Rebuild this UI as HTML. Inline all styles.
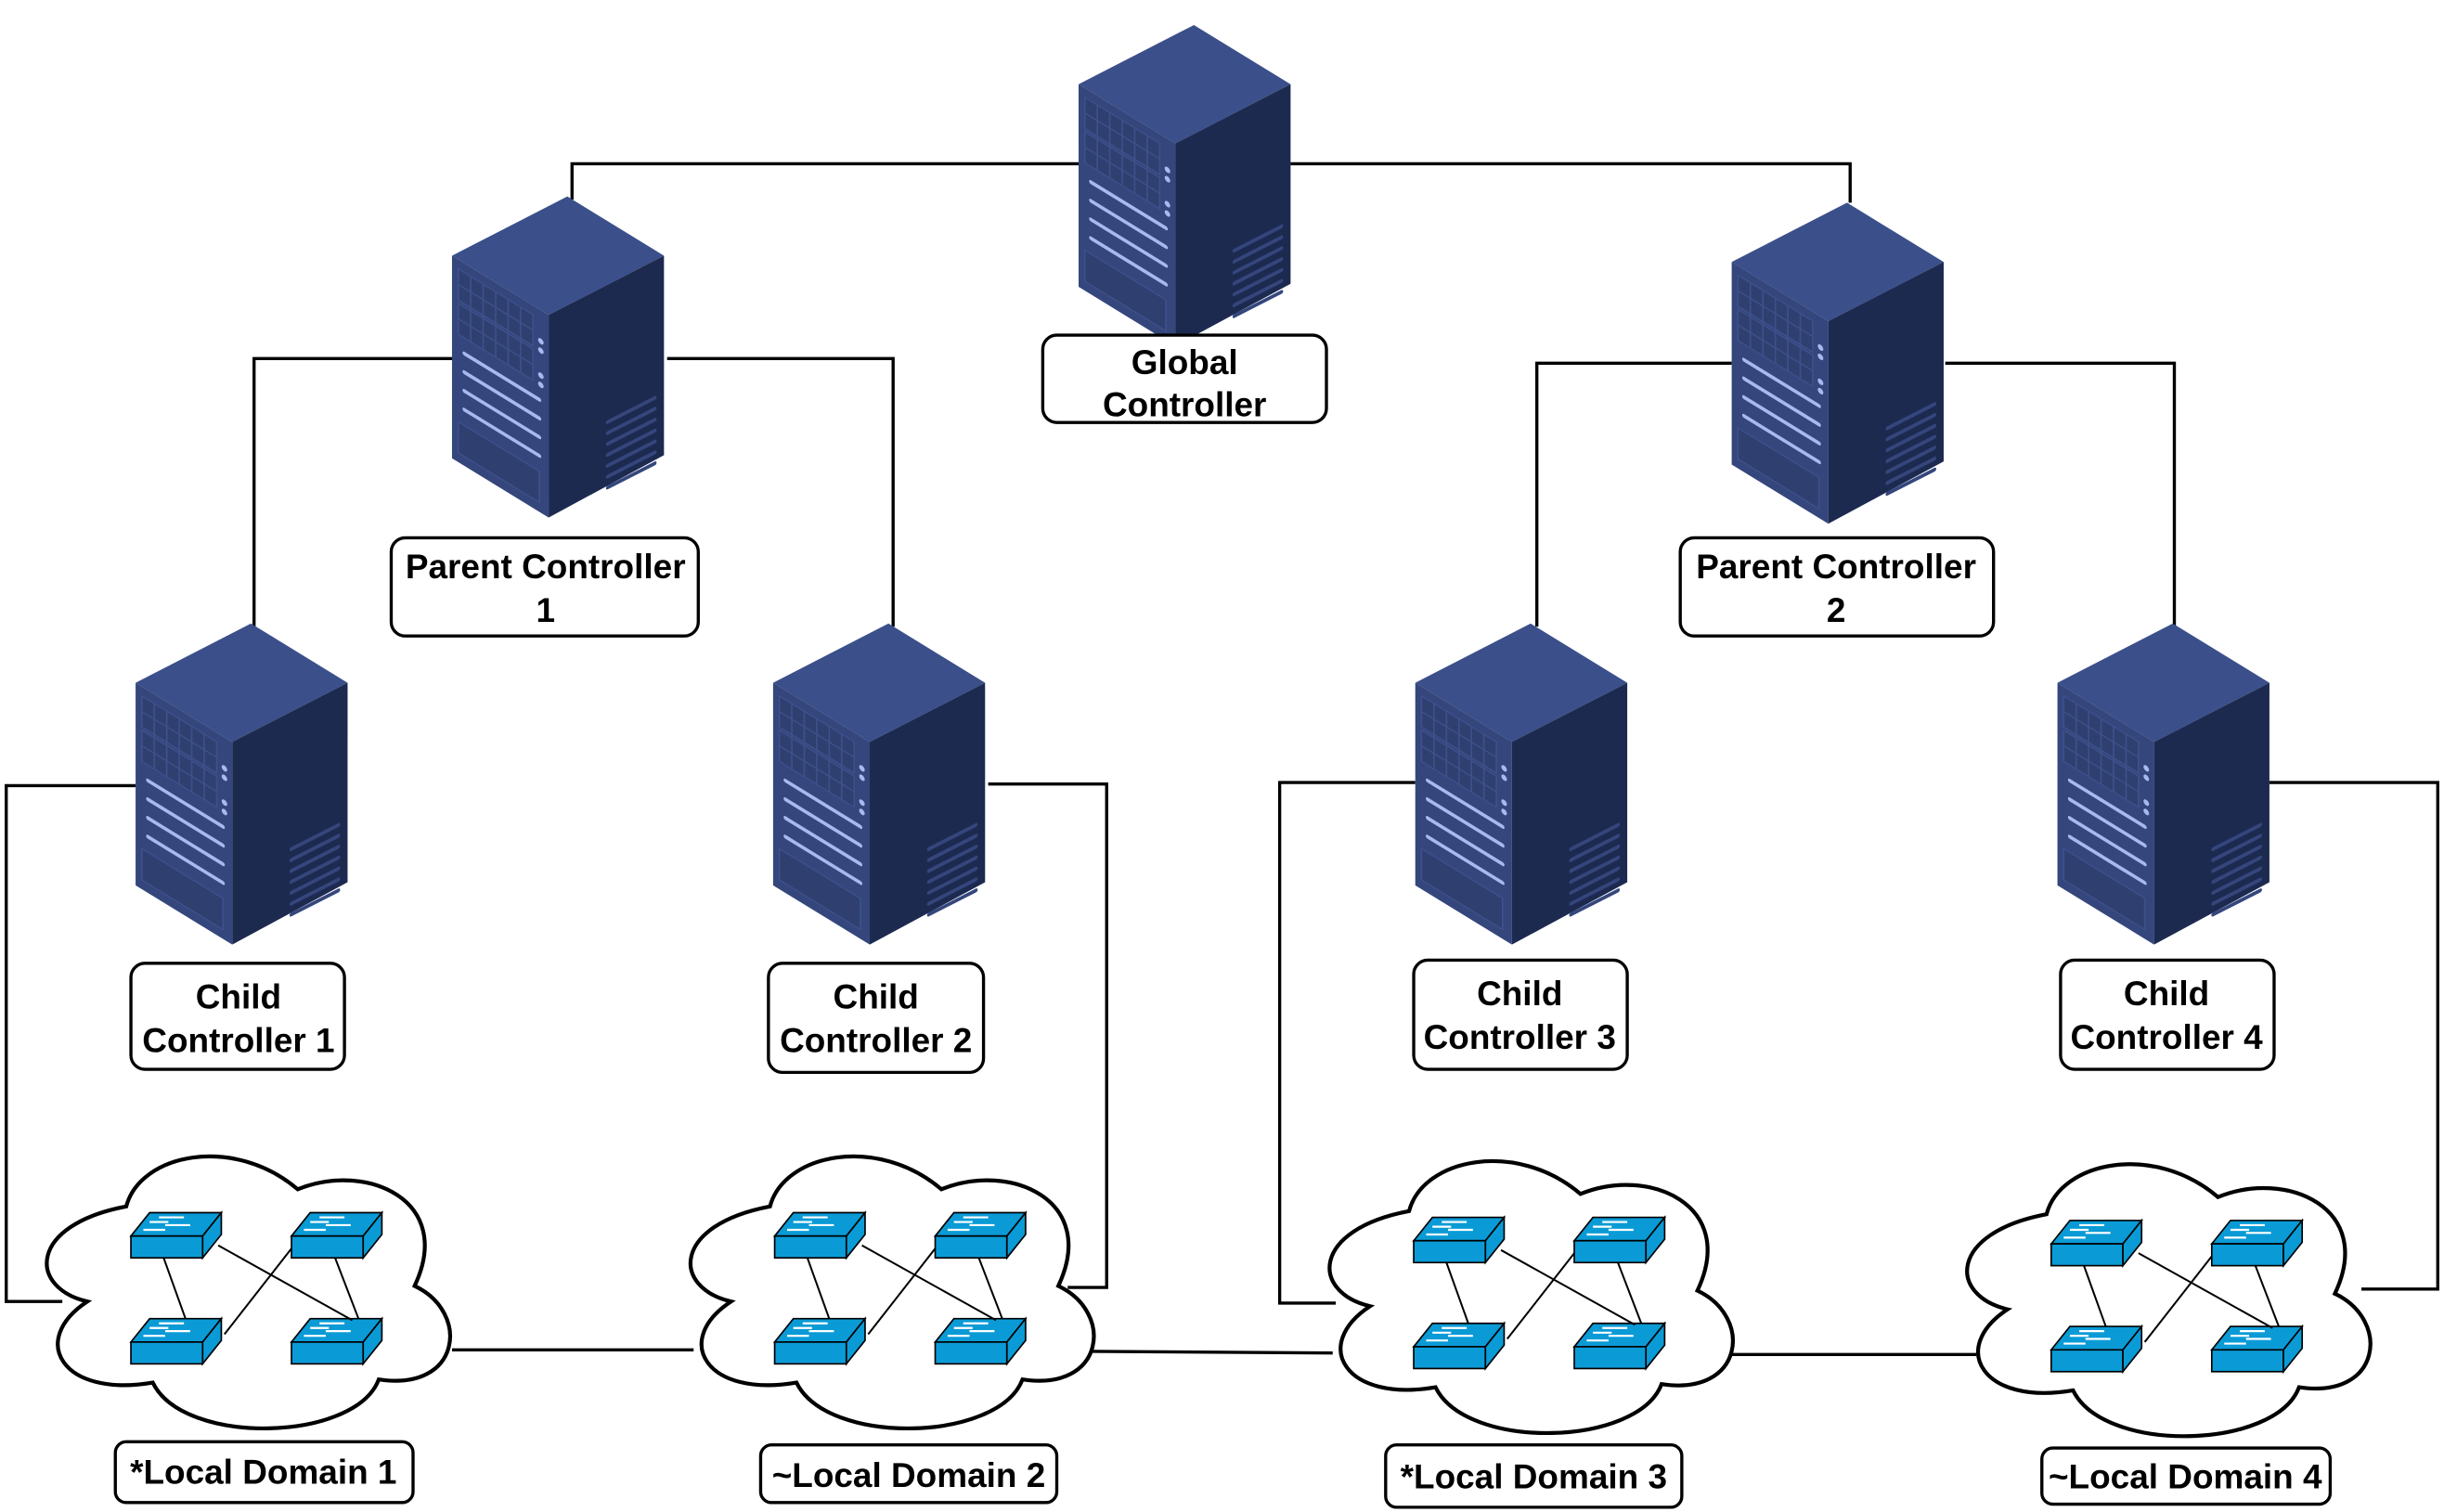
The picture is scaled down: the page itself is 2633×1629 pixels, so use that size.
<!DOCTYPE html>
<html><head><meta charset="utf-8"><style>
html,body{margin:0;padding:0;background:#fff;}
svg{display:block;}
text{font-family:"Liberation Sans",Arial,sans-serif;font-weight:bold;font-size:22px;fill:#000;text-anchor:middle;}
</style></head><body>
<svg width="2633" height="1629" viewBox="0 0 1568 970" xmlns="http://www.w3.org/2000/svg">
<defs>
<g id="srv">
  <polygon points="0,0 74,-38 136,0 62,38" fill="#3b4f8a"/>
  <polygon points="0,0 62,38 62,168 0,130" fill="#34467c"/>
  <polygon points="62,38 136,0 136,128 62,168" fill="#1d2a50"/>
  <g transform="skewY(31.5)">
    <rect x="4" y="6" width="48" height="20" fill="#2f3f70" stroke="#3d508a" stroke-width="1"/>
    <rect x="4" y="28" width="48" height="20" fill="#2f3f70" stroke="#3d508a" stroke-width="1"/>
    <g stroke="#3d508a" stroke-width="1">
      <line x1="12" y1="6" x2="12" y2="48"/><line x1="20" y1="6" x2="20" y2="48"/><line x1="28" y1="6" x2="28" y2="48"/><line x1="36" y1="6" x2="36" y2="48"/><line x1="44" y1="6" x2="44" y2="48"/>
      <line x1="4" y1="16" x2="52" y2="16"/><line x1="4" y1="38" x2="52" y2="38"/>
    </g>
    <circle cx="57" cy="20" r="1.8" fill="#a9b8f0"/><circle cx="57" cy="26" r="1.8" fill="#a9b8f0"/>
    <circle cx="57" cy="42" r="1.8" fill="#a9b8f0"/><circle cx="57" cy="48" r="1.8" fill="#a9b8f0"/>
    <g stroke="#a9b8f0" stroke-width="2.5" stroke-linecap="round">
      <line x1="8" y1="58" x2="56" y2="58"/><line x1="8" y1="70" x2="56" y2="70"/><line x1="8" y1="82" x2="56" y2="82"/><line x1="8" y1="94" x2="56" y2="94"/>
    </g>
    <rect x="4" y="104" width="52" height="20" fill="#2f3f70" stroke="#3d508a"/>
  </g>
  <g transform="translate(62,38) skewY(-27)" stroke="#34467c" stroke-width="2.5" stroke-linecap="round">
    <line x1="38" y1="88" x2="68" y2="88"/><line x1="38" y1="95" x2="68" y2="95"/><line x1="38" y1="102" x2="68" y2="102"/><line x1="38" y1="109" x2="68" y2="109"/><line x1="38" y1="116" x2="68" y2="116"/><line x1="38" y1="123" x2="68" y2="123"/><line x1="38" y1="130" x2="68" y2="130"/>
  </g>
</g>
<g id="sw">
  <polygon points="0,0 12,-15 58,-15 46,0" fill="#0a9bd6" stroke="#000" stroke-width="1"/>
  <rect x="0" y="0" width="46" height="14" fill="#0a9bd6" stroke="#000" stroke-width="1"/>
  <polygon points="46,0 58,-15 58,-1 46,14" fill="#0a9bd6" stroke="#000" stroke-width="1"/>
  <g stroke="#fff" stroke-width="1.3">
    <line x1="18" y1="-12" x2="34" y2="-12"/><line x1="12" y1="-9" x2="24" y2="-9"/><line x1="22" y1="-7" x2="38" y2="-7"/><line x1="8" y1="-4" x2="22" y2="-4"/>
  </g>
</g>
<g id="cloud">
  <path d="M56,835 C18,826 18,786 81,774 C90,740 150,728 191,763 C235,745 292,770 266,825 C302,842 296,893 243,885 C228,925 118,928 98,887 C40,897 18,860 56,835 Z" fill="#fff" stroke="#000" stroke-width="2.5"/>
  <use href="#sw" x="84" y="793"/><use href="#sw" x="187" y="793"/>
  <use href="#sw" x="84" y="861"/><use href="#sw" x="187" y="861"/>
  <g stroke="#000" stroke-width="1.2">
    <line x1="105" y1="807" x2="119" y2="846"/><line x1="215" y1="807" x2="230" y2="846"/>
    <line x1="140" y1="799" x2="226" y2="847"/><line x1="187" y1="801" x2="144" y2="856"/>
  </g>
</g>
</defs>
<g fill="none" stroke="#000" stroke-width="2">
  <polyline points="367,128 367,105 692,105"/>
  <polyline points="828,105 1187,105 1187,130"/>
  <polyline points="290,230 163,230 163,402"/>
  <polyline points="428,230 573,230 573,402"/>
  <polyline points="1111,233 986,233 986,402"/>
  <polyline points="1248,233 1395,233 1395,402"/>
  <polyline points="87,504 4,504 4,835 40,835"/>
  <polyline points="634,503 710,503 710,826 685,826"/>
  <polyline points="908,502 821,502 821,836 857,836"/>
  <polyline points="1456,502 1564,502 1564,827 1515,827"/>
  <line x1="290" y1="866" x2="445" y2="866"/>
  <line x1="700" y1="867" x2="855" y2="868"/>
  <line x1="1110" y1="869" x2="1268" y2="869"/>
</g>
<use href="#cloud" x="0" y="0"/>
<use href="#cloud" x="413" y="0"/>
<use href="#cloud" x="823" y="3"/>
<use href="#cloud" x="1232" y="5"/>
<use href="#srv" x="692" y="54"/>
<use href="#srv" x="290" y="164"/>
<use href="#srv" x="1111" y="168"/>
<use href="#srv" x="87" y="438"/>
<use href="#srv" x="496" y="438"/>
<use href="#srv" x="908" y="438"/>
<use href="#srv" x="1320" y="438"/>
<g fill="#fff" stroke="#000" stroke-width="2">
  <rect x="669" y="215" width="182" height="56" rx="9"/>
  <rect x="251" y="345" width="197" height="63" rx="9"/>
  <rect x="1078" y="345" width="201" height="63" rx="9"/>
  <rect x="84" y="618" width="137" height="68" rx="9"/>
  <rect x="493" y="618" width="138" height="70" rx="9"/>
  <rect x="907" y="616" width="137" height="70" rx="9"/>
  <rect x="1322" y="616" width="137" height="70" rx="9"/>
  <rect x="74" y="925" width="191" height="39" rx="7"/>
  <rect x="488" y="927" width="190" height="37" rx="7"/>
  <rect x="889" y="927" width="190" height="40" rx="7"/>
  <rect x="1310" y="929" width="185" height="36" rx="7"/>
</g>
<text x="760" y="240">Global</text><text x="760" y="267">Controller</text>
<text x="350" y="371">Parent Controller</text><text x="350" y="399">1</text>
<text x="1178" y="371">Parent Controller</text><text x="1178" y="399">2</text>
<text x="153" y="647">Child</text><text x="153" y="675">Controller 1</text>
<text x="562" y="647">Child</text><text x="562" y="675">Controller 2</text>
<text x="975" y="645">Child</text><text x="975" y="673">Controller 3</text>
<text x="1390" y="645">Child</text><text x="1390" y="673">Controller 4</text>
<text x="169" y="952">*Local Domain 1</text>
<text x="583" y="954">~Local Domain 2</text>
<text x="984" y="955">*Local Domain 3</text>
<text x="1402" y="955">~Local Domain 4</text>
</svg>
</body></html>
